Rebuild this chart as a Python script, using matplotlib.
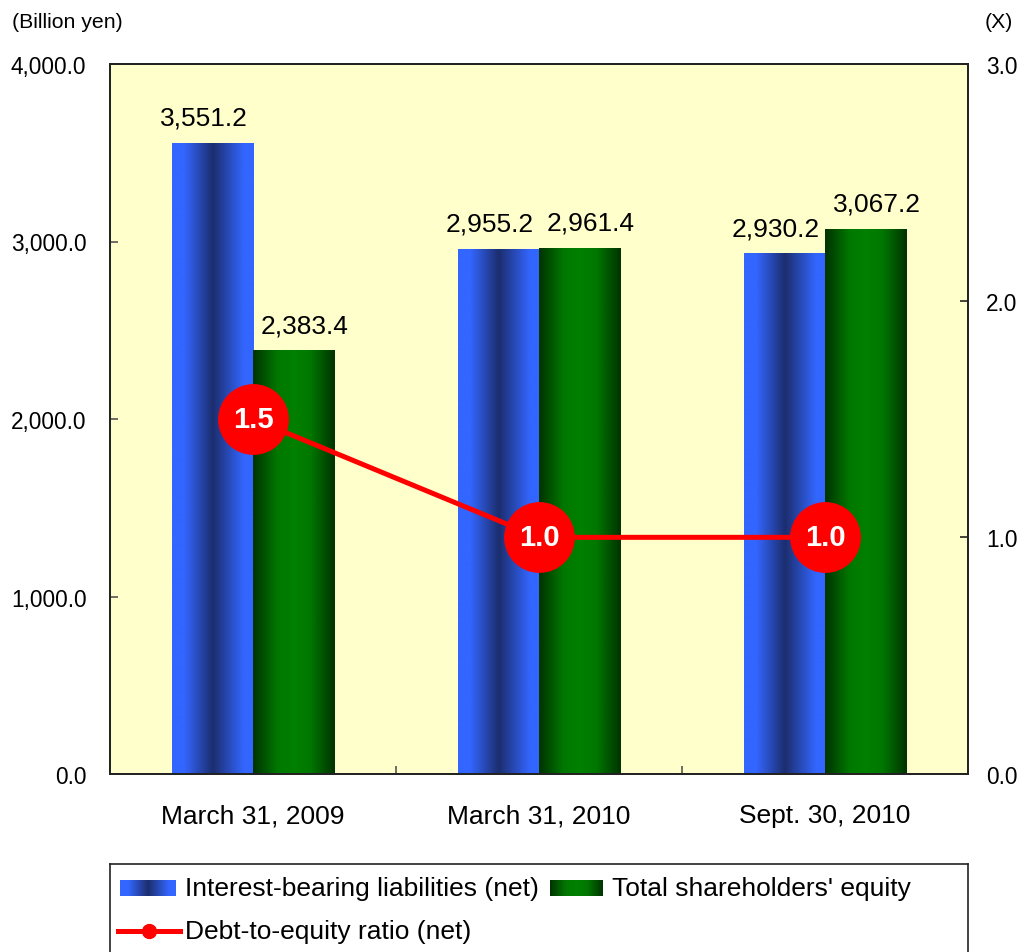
import numpy as np
import matplotlib
matplotlib.use("Agg")
import matplotlib.pyplot as plt
from matplotlib.colors import LinearSegmentedColormap
from matplotlib.ticker import FuncFormatter

plt.rcParams['font.family'] = ['Liberation Sans', 'DejaVu Sans']

# === DATA ===
categories = ["March 31, 2009", "March 31, 2010", "Sept. 30, 2010"]
liabilities = [3551.2, 2955.2, 2930.2]
equity = [2383.4, 2961.4, 3067.2]
de_ratio = [1.5, 1.0, 1.0]
series_names = ["Interest-bearing liabilities (net)", "Total shareholders' equity",
                "Debt-to-equity ratio (net)"]

# === STYLE ===
BLUE_CMAP = LinearSegmentedColormap.from_list(
    "blue_bar", [(0, '#3366FF'), (0.15, '#3366FF'), (0.5, '#1C2E6E'), (0.88, '#3366FF'), (1, '#3366FF')])
GREEN_CMAP = LinearSegmentedColormap.from_list(
    "green_bar", [(0, '#003300'), (0.3, '#007800'), (0.5, '#008000'), (0.7, '#007800'), (1, '#003300')])
RED = '#FF0000'
BG = '#FFFFCC'
GRAD = np.linspace(0, 1, 256).reshape(1, -1)
FS = 19


def gradient_bars(ax, rects, cmap):
    for r in rects:
        x0, w, h = r.get_x(), r.get_width(), r.get_height()
        ax.imshow(GRAD, extent=[x0, x0 + w, 0, h], cmap=cmap, aspect='auto',
                  interpolation='bilinear', zorder=2)


fig = plt.figure(figsize=(10.18, 9.53), dpi=100)
ax = fig.add_axes([110 / 1018, 178 / 953, 858 / 1018, 710 / 953])
ax.set_facecolor(BG)

x = np.arange(len(categories))
w = 0.284
b1 = ax.bar(x - w / 2, liabilities, w, facecolor='none', edgecolor='none')
b2 = ax.bar(x + w / 2, equity, w, facecolor='none', edgecolor='none')
gradient_bars(ax, b1, BLUE_CMAP)
gradient_bars(ax, b2, GREEN_CMAP)

# labels sit a little outward of the bar centre, as in the source chart
for xi, v in zip(x - w / 2, liabilities):
    ax.annotate(f"{v:,.1f}", (xi, v), xytext=(-6, 10), textcoords='offset points',
                ha='center', va='bottom', fontsize=FS)
for xi, v in zip(x + w / 2, equity):
    ax.annotate(f"{v:,.1f}", (xi, v), xytext=(8, 10), textcoords='offset points',
                ha='center', va='bottom', fontsize=FS)

ax.set_xlim(-0.5, 2.5)
ax.set_ylim(0, 4000)
ax.set_yticks([0, 1000, 2000, 3000, 4000])
ax.yaxis.set_major_formatter(FuncFormatter(lambda v, p: f"{v:,.1f}"))
ax.set_xticks(x)
ax.set_xticklabels(categories)
ax.set_xticks([0.5, 1.5], minor=True)
ax.tick_params(axis='x', which='major', length=0, labelsize=FS, pad=21)
ax.tick_params(axis='x', which='minor', direction='in', length=6, width=1.2, color='#555555')
ax.tick_params(axis='y', direction='in', length=6, width=1.2, labelsize=16.3, pad=17,
               color='#555555')
for s in ax.spines.values():
    s.set_linewidth(1.3)
    s.set_color('#222222')

ax2 = ax.twinx()
ax2.set_ylim(0, 3.0)
ax2.set_yticks([0, 1, 2, 3])
ax2.yaxis.set_major_formatter(FuncFormatter(lambda v, p: f"{v:.1f}"))
ax2.tick_params(axis='y', direction='in', length=6, width=1.2, labelsize=16.3, pad=13,
                color='#222222')
for s in ax2.spines.values():
    s.set_linewidth(1.3)
    s.set_color('#222222')
ax2.plot(x, de_ratio, color=RED, linewidth=3.6, marker='o', markersize=50,
         markerfacecolor=RED, markeredgecolor=RED, zorder=3)
for xi, v in zip(x, de_ratio):
    ax2.text(xi, v, f"{v:.1f}", ha='center', va='center', color='white',
             fontsize=21, fontweight='bold', zorder=4)

fig.text(12 / 1018, 1 - 22 / 953, "(Billion yen)", ha='left', va='center', fontsize=15.3)
fig.text(985 / 1018, 1 - 22 / 953, "(X)", ha='left', va='center', fontsize=15.3)

# legend box, cut off at the bottom edge like the original
lg = fig.add_axes([110 / 1018, 0, 858 / 1018, 88 / 953])
lg.set_xticks([])
lg.set_yticks([])
lg.spines['bottom'].set_visible(False)
for k in ['top', 'left', 'right']:
    lg.spines[k].set_linewidth(1.2)
    lg.spines[k].set_color('#222222')
lg.imshow(GRAD, extent=[10, 66, 32, 16], cmap=BLUE_CMAP, aspect='auto', interpolation='bilinear')
lg.imshow(GRAD, extent=[440, 493, 32, 16], cmap=GREEN_CMAP, aspect='auto', interpolation='bilinear')
lg.plot([8, 70], [67, 67], color=RED, linewidth=3.6)
lg.plot([39], [67], 'o', color=RED, markersize=10)
lg.text(75, 24, series_names[0], ha='left', va='center', fontsize=FS)
lg.text(502, 24, series_names[1], ha='left', va='center', fontsize=FS)
lg.text(75, 67, series_names[2], ha='left', va='center', fontsize=FS)
lg.set_xlim(0, 858)
lg.set_ylim(88, 0)

fig.savefig("out.png", dpi=100)
